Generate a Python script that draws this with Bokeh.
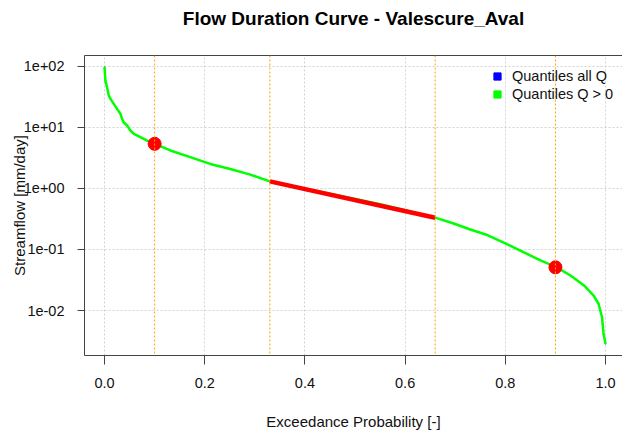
from bokeh.plotting import figure
from bokeh.models import (Range1d, FixedTicker, Span, Legend, LegendItem,
                          LinearAxis)
from bokeh.embed import file_html
from bokeh.resources import INLINE

# ---- data ----
exceed_prob = [0, 0.001, 0.0018, 0.005, 0.0084, 0.0118, 0.0184, 0.025, 0.0317, 0.035,
               0.038, 0.045, 0.0517, 0.0585, 0.0716, 0.085, 0.1, 0.1315, 0.171, 0.211,
               0.251, 0.291, 0.33, 0.40, 0.45, 0.5, 0.55, 0.6, 0.66, 0.697,
               0.73, 0.764, 0.80, 0.83, 0.87, 0.902, 0.93, 0.957, 0.976, 0.986,
               0.993, 0.996, 1.0]
streamflow = [96.4, 70.8, 57.5, 45.3, 33.1, 29.2, 24.2, 20.0, 16.6, 13.8,
              12.1, 10.7, 8.85, 7.82, 6.89, 6.03, 5.36, 4.17, 3.24, 2.51,
              2.07, 1.68, 1.30, 0.99, 0.815, 0.672, 0.548, 0.440, 0.331, 0.266,
              0.212, 0.172, 0.126, 0.0955, 0.0661, 0.0513, 0.0374, 0.0257, 0.0176, 0.0129,
              0.00776, 0.00417, 0.00285]

quant_prob = [0.1, 0.9]
quant_flow = [5.36, 0.051]
mid_prob = [0.33, 0.66]
mid_flow = [1.30, 0.331]
vline_prob = [0.1, 0.33, 0.66, 0.9]

x_ticks = [0.0, 0.2, 0.4, 0.6, 0.8, 1.0]
x_tick_labels = ["0.0", "0.2", "0.4", "0.6", "0.8", "1.0"]
y_ticks = [0.01, 0.1, 1.0, 10.0, 100.0]
y_tick_labels = ["1e-02", "1e-01", "1e+00", "1e+01", "1e+02"]

title_text = "Flow Duration Curve - Valescure_Aval"
x_label = "Exceedance Probability [-]"
y_label = "Streamflow [mm/day]"
legend_labels = ["Quantiles all Q", "Quantiles Q > 0"]

# ---- figure ----
FONT = "Liberation Sans"
BOX = "#444444"
W, H = 622, 435
ML, MT, MB = 84, 55, 80
frame_w = W - ML
frame_h = H - MT - MB
x0 = -0.04
x1 = x0 + frame_w / 501.0
ytop = 2.175
ybot = ytop - frame_h / 61.08

p = figure(width=W, height=H, output_backend="svg", toolbar_location=None,
           y_axis_type="log",
           x_range=Range1d(x0, x1), y_range=Range1d(10 ** ybot, 10 ** ytop),
           min_border_left=ML, min_border_right=0, min_border_top=MT,
           min_border_bottom=MB)
p.outline_line_color = None
p.background_fill_color = "white"
p.border_fill_color = "white"

# axes
p.xaxis.ticker = FixedTicker(ticks=x_ticks)
p.xaxis.major_label_overrides = dict(zip(x_ticks, x_tick_labels))
p.yaxis.ticker = FixedTicker(ticks=y_ticks)
p.yaxis.major_label_overrides = dict(zip(y_ticks, y_tick_labels))
for ax in (p.xaxis[0], p.yaxis[0]):
    ax.axis_line_color = BOX
    ax.major_tick_line_color = BOX
    ax.minor_tick_line_color = None
    ax.major_tick_in = 0
    ax.major_label_text_font = FONT
    ax.major_label_text_font_size = "14.5px"
    ax.major_label_text_color = "#111111"
    ax.axis_label_text_font = FONT
    ax.axis_label_text_font_size = "15px"
    ax.axis_label_text_font_style = "normal"
    ax.axis_label_text_color = "#111111"
p.xaxis.major_tick_out = 9
p.xaxis.major_label_standoff = 13
p.xaxis.axis_label = x_label
p.xaxis.axis_label_standoff = 22
p.yaxis.major_tick_out = 7
p.yaxis.major_label_standoff = 13
p.yaxis.axis_label = y_label
p.yaxis.axis_label_standoff = -7

# top axis: box top line + main title
top = LinearAxis(ticker=FixedTicker(ticks=[]), axis_label=title_text,
                 axis_line_color=BOX, major_tick_line_color=None,
                 minor_tick_line_color=None, major_label_standoff=0,
                 axis_label_standoff=27, axis_label_text_font=FONT,
                 axis_label_text_font_size="19px",
                 axis_label_text_font_style="bold",
                 axis_label_text_color="black")
p.add_layout(top, "above")

# grid
for g in (p.xgrid[0], p.ygrid[0]):
    g.grid_line_color = "#D3D3D3"
    g.grid_line_dash = "2 2"
    g.grid_line_width = 1

# quantile series (all Q is identical to Q > 0: hidden under the green line)
r_all = p.scatter(exceed_prob, streamflow, marker="square", size=0.5,
                  fill_color="#0000FF", line_color="#0000FF")
r_pos = p.scatter(exceed_prob, streamflow, marker="square", size=0.5,
                  fill_color="#00FF00", line_color="#00FF00")
p.line(exceed_prob, streamflow, line_color="#00FF00", line_width=2.5)
p.line(mid_prob, mid_flow, line_color="#FF0000", line_width=4.5)
p.scatter(quant_prob, quant_flow, marker="circle", size=13,
          fill_color="#FF0000", line_color="#FF0000")

# orange vertical reference lines
for v in vline_prob:
    p.add_layout(Span(location=v, dimension="height", line_color="#FFA500",
                      line_dash="2 2", line_width=1))

legend = Legend(items=[LegendItem(label=legend_labels[0], renderers=[r_all]),
                       LegendItem(label=legend_labels[1], renderers=[r_pos])],
                location=(404, 252), orientation="vertical",
                glyph_width=18, glyph_height=18, label_height=18,
                label_standoff=6, spacing=0, padding=0, margin=0,
                border_line_color=None, background_fill_alpha=0,
                label_text_font=FONT, label_text_font_size="14.5px",
                label_text_color="#111111")
p.add_layout(legend)

open("out.html", "w").write(file_html(p, INLINE))
